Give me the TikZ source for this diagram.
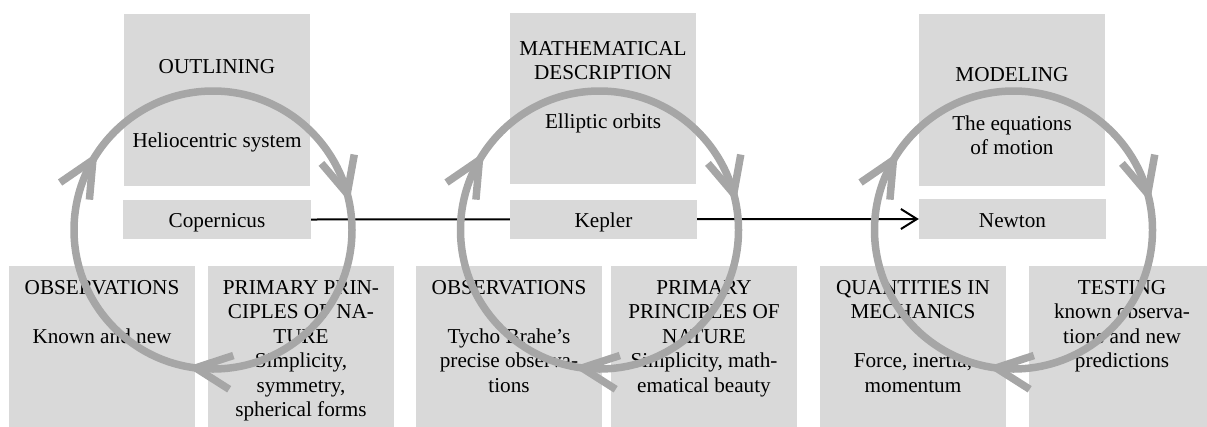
\documentclass[tikz,border=0pt]{standalone}
\usepackage{fontspec}
\setmainfont{Liberation Serif}
\usetikzlibrary{arrows.meta,decorations.markings}
\definecolor{boxg}{HTML}{D9D9D9}
\definecolor{cycg}{HTML}{A6A6A6}
\newcommand\tf{\fontsize{21.2}{24.5}\selectfont}
\newcommand\chev{\draw[cycg, line width=7.5pt, line join=miter, line cap=butt] (-36,17) -- (0,0) -- (-36,-17);}
\begin{document}
\begin{tikzpicture}[x=1pt,y=-1pt,
  box/.style={fill=boxg, inner sep=0pt, minimum width=186pt},
  txt/.style={anchor=north, align=center, inner sep=0pt, font=\tf},
  cyc/.style={draw=cycg, line width=7.5pt, postaction={decorate},
    decoration={markings,
      mark=at position 0.27 with {\chev},
      mark=at position 0.584 with {\chev},
      mark=at position 0.958 with {\chev}}}]
\clip (0,0) rectangle (1207,426);
\useasboundingbox (0,0) rectangle (1207,426);
% boxes
\node[box, minimum height=172pt] (out) at (217,100) {};
\node[box, minimum width=188pt, minimum height=39pt] (cop) at (217,219.5) {};
\node[box, minimum height=180pt] (obs1) at (102,356) {};
\node[box, minimum height=180pt] (pri1) at (301,356) {};
\node[box, minimum height=171pt] (mat) at (603,98.5) {};
\node[box, minimum height=180pt] (obs2) at (509,356) {};
\node[box, minimum height=180pt] (pri2) at (704,356) {};
\node[box, minimum height=172pt] (mod) at (1012,100) {};
\node[box, minimum width=187pt, minimum height=40pt] (new) at (1012.5,219) {};
\node[box, minimum height=180pt] (qua) at (913,356) {};
\node[box, minimum height=180pt] (tes) at (1122,356) {};
\draw[line width=2pt, -{Straight Barb[length=16pt,width=20pt]}] (cop.east) -- (new.west);
\node[box, minimum width=187pt, minimum height=39pt] (kep) at (603.5,219.5) {};
% texts panel 1
\node[txt] (t1a) at (217,56.2) {\strut OUTLINING};
\node[txt] (t1b) at (217,130.5) {\strut Heliocentric system};
\node[txt] (t1c) at (217,209.9) {\strut Copernicus};
\node[txt] (t1d) at (102,276.9) {\strut OBSERVATIONS};
\node[txt] (t1e) at (102,325.9) {\strut Known and new};
\node[txt] (t1f) at (301,276.9) {\strut PRIMARY PRIN-\\CIPLES OF NA-\\TURE\\Simplicity,\\symmetry,\\spherical forms};
% texts panel 2
\node[txt] (t2a) at (603,37.9) {\strut MATHEMATICAL\\DESCRIPTION};
\node[txt] (t2b) at (603,111.2) {\strut Elliptic orbits};
\node[txt] (t2c) at (603.5,209.9) {\strut Kepler};
\node[txt] (t2d) at (509,276.9) {\strut OBSERVATIONS};
\node[txt] (t2e) at (509,325.9) {\strut Tycho Brahe’s\\precise observa-\\tions};
\node[txt] (t2f) at (704,276.9) {\strut PRIMARY\\PRINCIPLES OF\\NATURE\\Simplicity, math-\\ematical beauty};
% texts panel 3
\node[txt] (t3a) at (1012,63.9) {\strut MODELING};
\node[txt] (t3b) at (1012,112.9) {\strut The equations\\of motion};
\node[txt] (t3c) at (1012.5,209.9) {\strut Newton};
\node[txt] (t3d) at (913,276.9) {\strut QUANTITIES IN\\MECHANICS};
\node[txt] (t3e) at (913,350.4) {\strut Force, inertia,\\momentum};
\node[txt] (t3f) at (1122,276.9) {\strut TESTING\\known observa-\\tions and new\\predictions};
% cycles
\draw[cyc] (213,230) circle[radius=139];
\draw[cyc] (599.5,230) circle[radius=139];
\draw[cyc] (1013.5,230) circle[radius=139];
\end{tikzpicture}
\end{document}
